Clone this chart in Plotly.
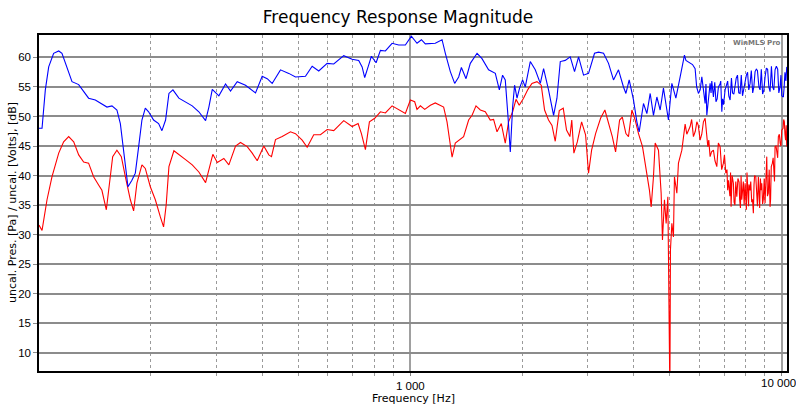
import numpy as np
import plotly.graph_objects as go

# Blue trace (upper curve), frequency in Hz and level in dB
blue_freq = [100, 101.9, 104, 106.2, 109.5, 113, 115.3, 118.9, 122.7, 127.9, 131.9, 136, 141.8, 147.7,
             152.4, 157.2, 162.1, 165.6, 169, 171.4, 173.6, 177.9, 181.7, 185.5, 189.3, 193.3, 197.3,
             203.5, 209.9, 214.3, 219.2, 223.8, 229.4, 238, 248.1, 258.6, 269.4, 280.9, 286.7, 292.8,
             305, 317.9, 327.9, 341.8, 359.8, 382.8, 399, 411.6, 424.5, 446.9, 470.5, 490.5, 521.8,
             543.9, 566.6, 596.9, 621.8, 661.5, 696.8, 725.9, 741.4, 753.4, 769.4, 785.3, 808.5, 830.4,
             856.5, 892.8, 930, 969.4, 1006, 1042, 1071, 1097, 1167, 1217, 1242, 1281, 1316, 1349, 1372,
             1412, 1450, 1512, 1559, 1624, 1693, 1736, 1771, 1801, 1832, 1858, 1885, 1908, 1937, 1968,
             2005, 2039, 2103, 2169, 2238, 2284, 2355, 2430, 2481, 2533, 2612, 2694, 2767, 2837, 2926,
             3018, 3132, 3211, 3312, 3416, 3523, 3634, 3748, 3805, 3883, 3988, 4073, 4131, 4243, 4333,
             4423, 4514, 4610, 4705, 4802, 4953, 5059, 5186, 5326, 5470, 5666, 5844, 5965, 6092, 6150,
             6218, 6284, 6350, 6413, 6480, 6546, 6650, 6752, 6820, 6896, 6970, 7038, 7150, 7259, 7370,
             7488, 7600, 7723, 7840, 7966, 8090, 8217, 8350, 8475, 8600, 8742, 8880, 9017, 9160, 9300,
             9450, 9593, 9750, 9895, 10000, 10099, 10200, 10314]
blue_db = [48.0, 48.0, 54.5, 58.4, 60.7, 61.1, 60.7, 58.4, 55.9, 55.4, 54.2, 53.1, 52.8, 52.1,
           51.6, 51.8, 51.1, 48.8, 44.3, 40.4, 38.1, 39.2, 40.4, 44.9, 49.4, 51.4, 50.8,
           49.4, 48.8, 47.6, 49.4, 53.9, 54.5, 53.1, 52.5, 51.8, 50.8, 49.3, 51.6, 54.6,
           53.5, 55.5, 54.3, 55.9, 55.3, 54.0, 56.8, 56.4, 55.6, 57.9, 57.3, 56.7, 56.8,
           58.5, 57.7, 59.0, 58.9, 60.3, 59.7, 59.5, 58.4, 56.6, 58.4, 60.2, 59.1, 61.2,
           61.1, 62.4, 62.1, 62.1, 63.6, 62.4, 63.0, 62.3, 62.4, 63.0, 60.7, 57.6, 55.6, 56.7, 58.3,
           56.4, 59.0, 60.7, 59.8, 57.9, 57.3, 54.5, 57.0, 56.2, 49.9, 44.0, 51.6, 55.3, 53.1, 54.8,
           56.2, 55.0, 59.3, 57.9, 55.6, 58.1, 54.5, 50.2, 53.1, 59.3, 59.5, 60.1, 57.6, 60.1, 57.0,
           57.3, 60.7, 60.9, 60.7, 59.0, 56.2, 57.9, 55.0, 53.9, 56.2, 52.8, 49.1, 47.4, 52.2, 50.5,
           53.9, 50.2, 53.3, 51.1, 54.8, 49.4, 55.6, 53.1, 56.7, 60.4, 59.0, 58.1, 53.9, 56.7, 55.0,
           52.2, 50.2, 53.0, 55.6, 56.0, 53.3, 52.5, 55.0, 55.5, 50.8, 52.0, 54.5, 56.0, 52.8, 54.0,
           55.6, 57.0, 53.9, 53.5, 56.2, 57.5, 55.6, 54.0, 57.6, 57.8, 54.5, 53.8, 56.7, 58.0, 54.2,
           55.0, 57.9, 58.0, 55.0, 53.5, 53.3, 57.5, 58.4]

blue_hf_freq = [5520, 5750, 5900, 6030, 6180, 6250, 6450, 6600, 6700, 6850, 6930, 7100, 7200, 7320,
                7430, 7540, 7660, 7780, 7900, 8030, 8150, 8280, 8410, 8540, 8680, 8810, 8950, 9090,
                9230, 9380, 9520, 9670, 9820, 9950, 10150, 10260]
blue_hf_db = [59.5, 58.8, 55.0, 54.5, 53.5, 55.5, 54.0, 55.8, 53.0, 56.0, 53.0, 55.5, 53.5, 56.5,
              53.8, 56.5, 54.0, 57.0, 54.5, 57.0, 54.5, 57.8, 55.0, 58.0, 55.0, 58.0, 54.5, 58.2,
              55.0, 58.5, 54.5, 58.5, 54.0, 57.0, 55.0, 56.0]

# Red trace (lower curve)
red_freq = [100, 101.9, 105.1, 108.4, 113, 116.5, 120.2, 124, 127.9, 131.9, 136, 140.3, 144.7, 147.7,
            151.8, 154.7, 157.9, 162.1, 166.6, 170.8, 176.2, 179.8, 183.5, 189.3, 193.3, 199.4, 205.7,
            212.2, 216.5, 220, 223.8, 230.8, 238, 248.1, 258.6, 269.4, 280.9, 287.9, 293.8, 302,
            314.6, 324.5, 338.2, 348.8, 363.6, 375.1, 386.9, 403, 415.7, 422.7, 433.3, 451.7, 475.5,
            490.5, 511.2, 527.3, 549.3, 572.6, 596.9, 621.8, 661.5, 696.8, 723.2, 738.2, 756.7, 775.7,
            801.6, 830.4, 856.5, 892.8, 930, 969.4, 1000, 1027, 1042, 1064, 1093, 1132, 1167, 1204,
            1229, 1255, 1273, 1295, 1321, 1349, 1391, 1435, 1466, 1502, 1543, 1591, 1641, 1675, 1711,
            1757, 1801, 1838, 1885, 1925, 1964, 2017, 2073, 2125, 2192, 2251, 2298, 2355, 2406, 2455,
            2517, 2580, 2633, 2689, 2720, 2756, 2815, 2891, 2963, 3018, 3076, 3153, 3252, 3340, 3416,
            3497, 3569, 3659, 3721, 3805, 3866, 3949, 4030, 4114, 4217, 4333, 4403, 4450, 4514, 4562,
            4656, 4734, 4773, 4832, 4883, 4935, 4975, 4997, 5015, 5059, 5109, 5141, 5218, 5270, 5382,
            5493, 5666, 5783, 5906, 6028, 6153, 6218, 6323, 6413, 6546, 6685, 6823, 6964, 7069, 7120,
            7183, 7250, 7304, 7350, 7409, 7480, 7567, 7620, 7675, 7740, 7805, 7880, 7966, 8030, 8100,
            8160, 8217, 8300, 8386, 8450, 8512, 8600, 8688, 8760, 8834, 8920, 9017, 9060, 9112, 9200,
            9300, 9370, 9434, 9520, 9593, 9700, 9791, 9900, 10000, 10080, 10162, 10240, 10314]
red_db = [31.6, 30.7, 35.9, 39.8, 43.8, 45.7, 46.6, 45.7, 43.5, 42.3, 42.1, 39.8, 38.4, 37.5,
          34.2, 38.1, 43.2, 44.3, 43.2, 39.8, 35.9, 34.0, 38.7, 41.8, 41.2, 38.1, 35.9,
          33.0, 31.3, 35.0, 41.5, 44.2, 43.5, 42.7, 41.8, 40.6, 38.8, 41.5, 43.6, 42.2,
          42.9, 41.8, 45.0, 45.6, 44.9, 43.8, 42.5, 45.0, 43.5, 43.2, 46.1, 46.6, 47.4,
          47.1, 46.0, 44.8, 46.9, 46.9, 47.8, 47.6, 49.3, 48.3, 48.8, 47.1, 44.4, 49.1,
          49.7, 50.8, 50.6, 51.8, 51.1, 50.5, 52.8, 52.5, 51.2, 51.8, 51.2, 51.9, 52.3, 51.9,
          51.6, 49.1, 46.6, 43.1, 45.5, 46.0, 46.6, 49.4, 50.2, 51.8, 51.1, 50.8, 49.4, 49.5, 47.4,
          48.8, 45.5, 49.1, 50.8, 52.9, 51.9, 53.1, 54.6, 55.6, 55.9, 55.3, 51.1, 49.4, 48.5, 45.8,
          51.0, 51.4, 47.7, 46.6, 49.4, 43.8, 45.7, 49.1, 46.9, 40.4, 44.3, 47.1, 49.7, 51.1, 48.8,
          46.6, 44.0, 49.4, 49.9, 47.1, 46.6, 51.1, 49.4, 47.1, 44.9, 40.4, 37.5, 34.7, 39.8, 45.5,
          44.3, 37.0, 29.1, 35.9, 31.9, 36.4, 16.1, 3.0, 27.4, 31.9, 29.6, 39.8, 37.0, 42.1, 44.3,
          48.7, 48.3, 46.6, 49.1, 46.0, 49.1, 49.7, 44.9, 43.2, 44.3, 41.5, 44.9, 42.1, 40.4, 41.0,
          39.2, 36.5, 34.7, 40.0, 38.7, 35.0, 36.4, 39.5, 38.9, 34.5, 35.9, 39.0, 38.7, 34.2, 35.3,
          38.5, 37.5, 35.5, 33.6, 40.0, 39.8, 34.8, 36.4, 39.5, 38.7, 36.0, 35.3, 40.5, 43.2, 37.0,
          34.7, 41.5, 42.1, 40.0, 44.9, 44.0, 46.6, 45.5, 47.7, 48.0, 49.1, 46.0, 44.9]

red_hf_freq = [5550, 5720, 5850, 5960, 6090, 6360, 6470, 6610, 6750, 6890, 7010, 7150, 7280, 7440,
               7520, 7700, 7770, 7920, 8060, 8140, 8250, 8340, 8420, 8560, 8650, 8720, 8800, 8880,
               8970, 9150, 9250, 9330, 9480, 9560, 9650, 9750, 9850, 9950, 10120, 10200, 10280]
red_hf_db = [47.0, 49.5, 47.5, 48.5, 47.0, 46.0, 44.0, 42.5, 45.5, 41.0, 43.5, 37.5, 40.5, 35.5,
             39.0, 36.0, 40.0, 35.0, 40.5, 34.8, 39.0, 36.0, 38.5, 35.5, 39.8, 34.5, 37.5, 35.2,
             39.5, 36.5, 41.0, 36.0, 43.0, 39.0, 45.0, 43.0, 47.0, 45.0, 49.5, 47.0, 48.5]

y_ticks = [10, 15, 20, 25, 30, 35, 40, 45, 50, 55, 60]
x_ticks = [1000, 10000]
x_ticktext = ['1 000', '']
x_minor = [200, 300, 400, 500, 600, 700, 800, 900, 2000, 3000, 4000, 5000, 6000, 7000, 8000, 9000]
x_last_label = '10 000'

TICK_FONT = dict(family='Liberation Sans', size=11.5, color='#000')


def merged(f1, d1, f2, d2):
    # put the main readings and the extra ripple readings in frequency order
    pairs = sorted(zip(f1 + f2, d1 + d2))
    return [p[0] for p in pairs], [p[1] for p in pairs]


bx, by = merged(blue_freq, blue_db, blue_hf_freq, blue_hf_db)
rx, ry = merged(red_freq, red_db, red_hf_freq, red_hf_db)

fig = go.Figure()
fig.add_trace(go.Scatter(x=rx, y=ry, mode='lines',
                         line=dict(color='#ff0000', width=1.1), showlegend=False))
fig.add_trace(go.Scatter(x=bx, y=by, mode='lines',
                         line=dict(color='#0000ff', width=1.1), showlegend=False))

fig.update_layout(
    width=796, height=405,
    margin=dict(l=39, r=9, t=35, b=34, autoexpand=False),
    paper_bgcolor='white', plot_bgcolor='white',
    font=dict(family='DejaVu Sans', size=11, color='#000'),
    title=dict(text='Frequency Response Magnitude', x=0.5, xanchor='center',
               y=0.958, yanchor='middle', font=dict(family='DejaVu Sans', size=17)),
)

fig.update_xaxes(
    type='log', range=[np.log10(100), np.log10(10330)], automargin=False,
    tickmode='array', tickvals=x_ticks, ticktext=x_ticktext, tickfont=TICK_FONT,
    showgrid=True, gridcolor='#a0a0a0', gridwidth=1.5,
    ticks='outside', ticklen=3, tickcolor='#808080',
    minor=dict(tickmode='array', tickvals=x_minor, showgrid=True, gridcolor='#9a9a9a',
               griddash='3px,3px', gridwidth=1, ticks='outside', ticklen=3, tickcolor='#9a9a9a'),
    showline=True, linecolor='#000', linewidth=1.5, mirror=True,
    zeroline=False,
)
fig.update_yaxes(
    range=[6.9, 63.8], automargin=False,
    tickmode='array', tickvals=y_ticks, tickfont=TICK_FONT,
    showgrid=True, gridcolor='#8c8c8c', gridwidth=1.5,
    ticks='outside', ticklen=4, tickcolor='#8c8c8c',
    showline=True, linecolor='#000', linewidth=1.5, mirror=True,
    zeroline=False,
)

# the last x label sits flush with the right edge of the picture, slightly left of its tick
fig.add_annotation(text=x_last_label, xref='x', yref='paper', x=np.log10(x_ticks[-1]), y=0,
                   yshift=-12, xshift=-3, xanchor='center', yanchor='middle', showarrow=False,
                   font=TICK_FONT)
# axis titles as annotations so they sit where the reference has them
fig.add_annotation(text='Frequency [Hz]', xref='paper', yref='paper', x=0.5, y=0,
                   yshift=-27, xanchor='center', yanchor='middle', showarrow=False,
                   font=dict(size=11))
fig.add_annotation(text='uncal. Pres. [Pa] / uncal. [Volts], [dB]', xref='paper', yref='paper',
                   x=0, y=0.5, xshift=-27, xanchor='center', yanchor='middle', textangle=-90,
                   showarrow=False, font=dict(size=11))
fig.add_annotation(text='<b>WinMLS Pro</b>', xref='paper', yref='paper', x=0.995, y=0.995,
                   xanchor='right', yanchor='top', showarrow=False,
                   font=dict(family='DejaVu Sans', size=7, color='#777'))

# drop the browser's default body margin so the figure starts at the page corner
fig.write_html('out.html', config={'displayModeBar': False},
               post_script="document.body.style.margin='0';")
